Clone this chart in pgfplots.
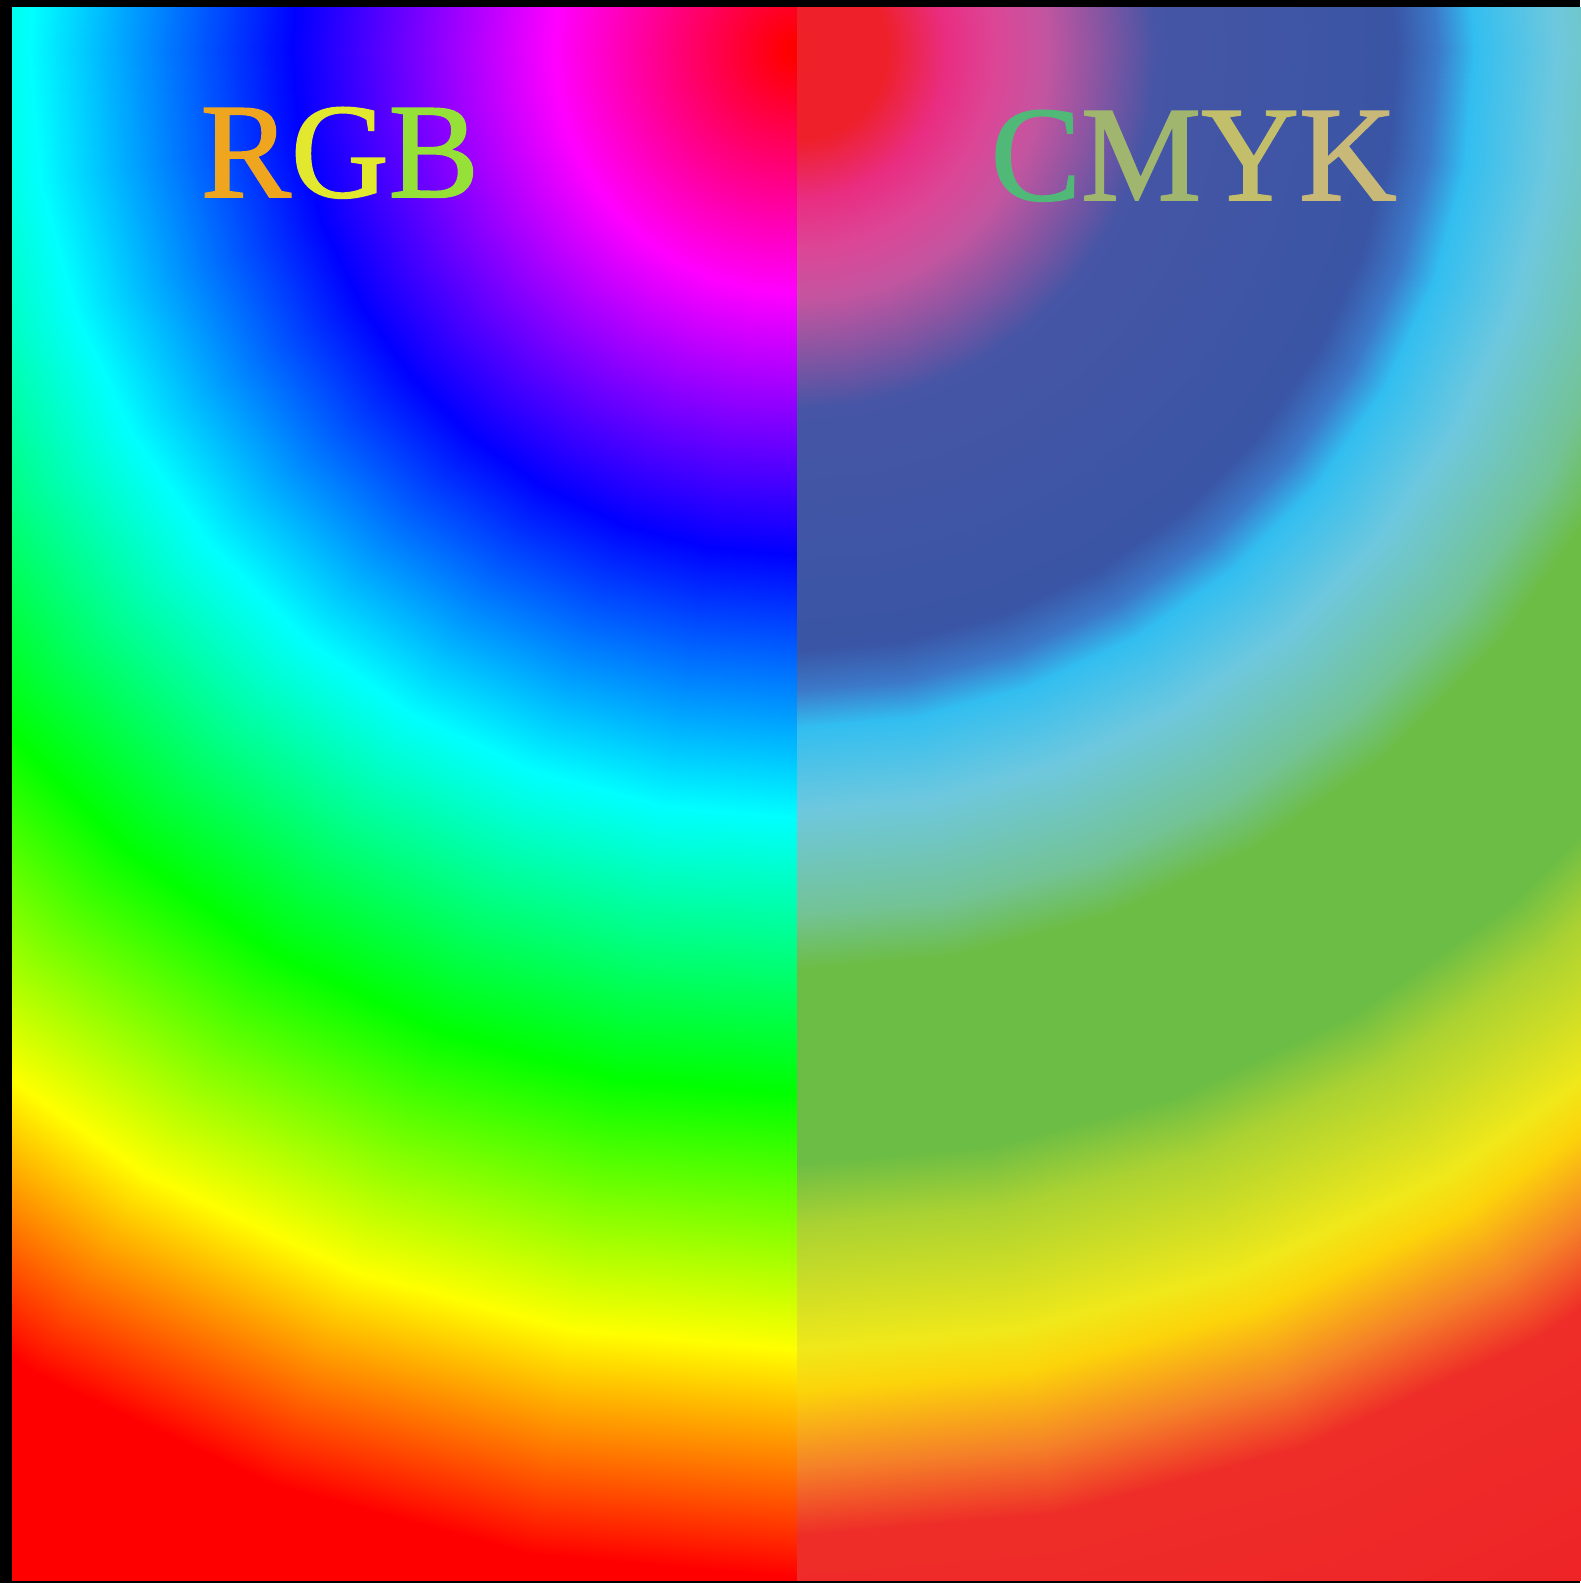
\documentclass[border=0pt]{standalone}
\usepackage{pgfplots}
\pgfplotsset{compat=1.18}
\usepackage{fontspec}
\setmainfont{Liberation Serif}
\newfontfamily\titlefont{Liberation Serif}[FakeBold=1.3]
\pgfplotsset{
  colormap={rgbmap}{
    rgb255(0)=(255,0,0) rgb255(10)=(255,0,0) rgb255(243)=(255,0,255)
    rgb255(505)=(0,0,255) rgb255(768)=(0,255,255) rgb255(1044)=(0,255,0)
    rgb255(1299)=(255,255,0) rgb255(1527)=(255,0,0) rgb255(1800)=(255,0,0)},
  colormap={cmykmap}{
    rgb255(0)=(238,32,40) rgb255(90)=(238,32,42) rgb255(150)=(233,45,130)
    rgb255(200)=(220,70,150) rgb255(250)=(195,85,160) rgb255(300)=(140,85,162)
    rgb255(360)=(70,85,165) rgb255(600)=(58,85,165) rgb255(640)=(60,120,200)
    rgb255(678)=(50,190,240) rgb255(761)=(110,200,222) rgb255(864)=(115,195,150)
    rgb255(920)=(108,189,69) rgb255(1113)=(108,189,69) rgb255(1175)=(170,210,50)
    rgb255(1299)=(240,232,26) rgb255(1341)=(252,212,10) rgb255(1417)=(245,130,40)
    rgb255(1486)=(238,45,40) rgb255(1800)=(238,33,39)},
}
\begin{document}
\begin{tikzpicture}
\fill[black, use as bounding box] (-1.2mm,-0.2mm) rectangle (156.8mm,158.1mm);
\begin{axis}[
  scale only axis, width=156.8mm, height=157.3mm,
  xmin=-785, xmax=783, ymin=-1531, ymax=42,
  hide axis, clip=true,
  point meta min=0, point meta max=1800,
]
\addplot[surf, shader=interp, colormap name=rgbmap, data cs=polar,
  mesh/rows=19, mesh/cols=4, point meta=explicit] coordinates {
(90,0)[0] (90,600)[600] (90,1200)[1200] (90,1800)[1800]
(100,0)[0] (100,600)[600] (100,1200)[1200] (100,1800)[1800]
(110,0)[0] (110,600)[600] (110,1200)[1200] (110,1800)[1800]
(120,0)[0] (120,600)[600] (120,1200)[1200] (120,1800)[1800]
(130,0)[0] (130,600)[600] (130,1200)[1200] (130,1800)[1800]
(140,0)[0] (140,600)[600] (140,1200)[1200] (140,1800)[1800]
(150,0)[0] (150,600)[600] (150,1200)[1200] (150,1800)[1800]
(160,0)[0] (160,600)[600] (160,1200)[1200] (160,1800)[1800]
(170,0)[0] (170,600)[600] (170,1200)[1200] (170,1800)[1800]
(180,0)[0] (180,600)[600] (180,1200)[1200] (180,1800)[1800]
(190,0)[0] (190,600)[600] (190,1200)[1200] (190,1800)[1800]
(200,0)[0] (200,600)[600] (200,1200)[1200] (200,1800)[1800]
(210,0)[0] (210,600)[600] (210,1200)[1200] (210,1800)[1800]
(220,0)[0] (220,600)[600] (220,1200)[1200] (220,1800)[1800]
(230,0)[0] (230,600)[600] (230,1200)[1200] (230,1800)[1800]
(240,0)[0] (240,600)[600] (240,1200)[1200] (240,1800)[1800]
(250,0)[0] (250,600)[600] (250,1200)[1200] (250,1800)[1800]
(260,0)[0] (260,600)[600] (260,1200)[1200] (260,1800)[1800]
(270,0)[0] (270,600)[600] (270,1200)[1200] (270,1800)[1800]
};
\addplot[surf, shader=interp, colormap name=cmykmap, data cs=polar,
  mesh/rows=19, mesh/cols=4, point meta=explicit] coordinates {
(270,0)[0] (270,600)[600] (270,1200)[1200] (270,1800)[1800]
(280,0)[0] (280,600)[600] (280,1200)[1200] (280,1800)[1800]
(290,0)[0] (290,600)[600] (290,1200)[1200] (290,1800)[1800]
(300,0)[0] (300,600)[600] (300,1200)[1200] (300,1800)[1800]
(310,0)[0] (310,600)[600] (310,1200)[1200] (310,1800)[1800]
(320,0)[0] (320,600)[600] (320,1200)[1200] (320,1800)[1800]
(330,0)[0] (330,600)[600] (330,1200)[1200] (330,1800)[1800]
(340,0)[0] (340,600)[600] (340,1200)[1200] (340,1800)[1800]
(350,0)[0] (350,600)[600] (350,1200)[1200] (350,1800)[1800]
(360,0)[0] (360,600)[600] (360,1200)[1200] (360,1800)[1800]
(370,0)[0] (370,600)[600] (370,1200)[1200] (370,1800)[1800]
(380,0)[0] (380,600)[600] (380,1200)[1200] (380,1800)[1800]
(390,0)[0] (390,600)[600] (390,1200)[1200] (390,1800)[1800]
(400,0)[0] (400,600)[600] (400,1200)[1200] (400,1800)[1800]
(410,0)[0] (410,600)[600] (410,1200)[1200] (410,1800)[1800]
(420,0)[0] (420,600)[600] (420,1200)[1200] (420,1800)[1800]
(430,0)[0] (430,600)[600] (430,1200)[1200] (430,1800)[1800]
(440,0)[0] (440,600)[600] (440,1200)[1200] (440,1800)[1800]
(450,0)[0] (450,600)[600] (450,1200)[1200] (450,1800)[1800]
};
\node[anchor=base west, inner sep=0pt, font=\titlefont\fontsize{38.5}{41}\selectfont]
  at (axis cs:-597,-147)
  {\textcolor[RGB]{240,165,30}{R}\textcolor[RGB]{225,232,45}{G}\textcolor[RGB]{150,225,55}{B}};
\node[anchor=base west, inner sep=0pt, font=\titlefont\fontsize{38.5}{41}\selectfont]
  at (axis cs:193,-150)
  {\textcolor[RGB]{80,185,120}{C}\textcolor[RGB]{160,182,110}{M}\textcolor[RGB]{195,190,105}{Y}\textcolor[RGB]{200,185,120}{K}};
\end{axis}
\end{tikzpicture}
\end{document}
